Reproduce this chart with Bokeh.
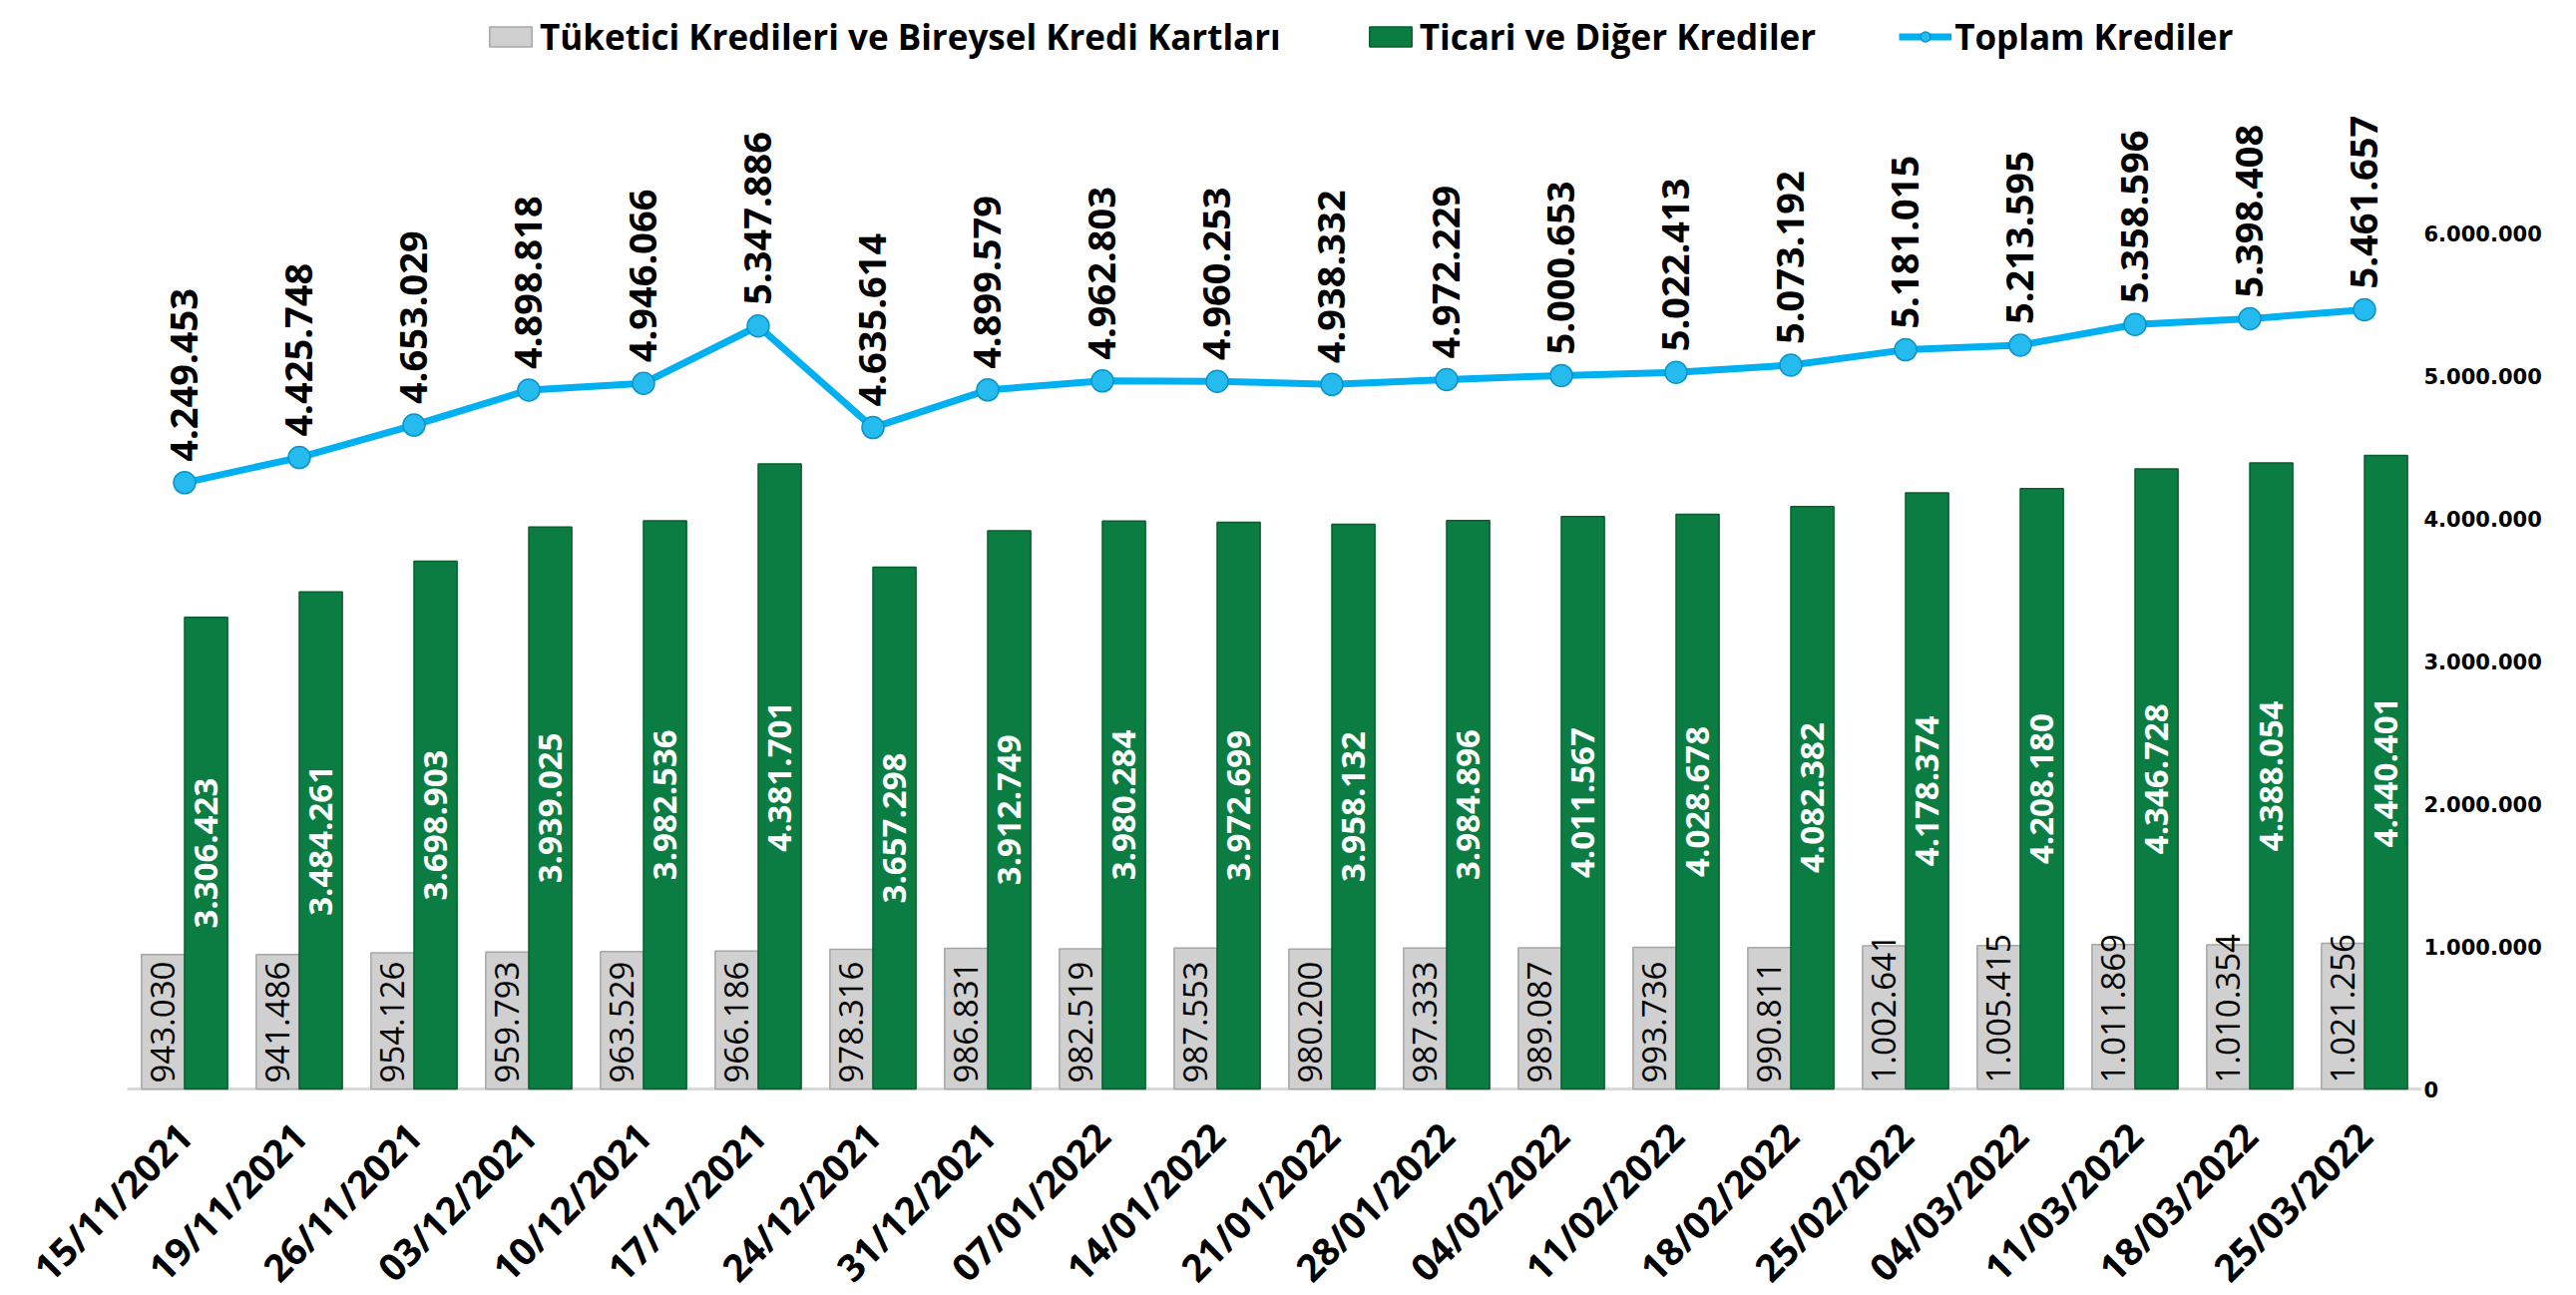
import math
from bokeh.plotting import figure
from bokeh.models import (ColumnDataSource, LinearAxis, FixedTicker,
                          Legend, LegendItem, Range1d)
from bokeh.transform import dodge
from bokeh.core.properties import value
from bokeh.embed import file_html
from bokeh.resources import INLINE

dates = ["15/11/2021", "19/11/2021", "26/11/2021", "03/12/2021", "10/12/2021",
         "17/12/2021", "24/12/2021", "31/12/2021", "07/01/2022", "14/01/2022",
         "21/01/2022", "28/01/2022", "04/02/2022", "11/02/2022", "18/02/2022",
         "25/02/2022", "04/03/2022", "11/03/2022", "18/03/2022", "25/03/2022"]
consumer = [943030, 941486, 954126, 959793, 963529, 966186, 978316, 986831,
            982519, 987553, 980200, 987333, 989087, 993736, 990811, 1002641,
            1005415, 1011869, 1010354, 1021256]
commercial = [3306423, 3484261, 3698903, 3939025, 3982536, 4381701, 3657298,
              3912749, 3980284, 3972699, 3958132, 3984896, 4011567, 4028678,
              4082382, 4178374, 4208180, 4346728, 4388054, 4440401]
total = [4249453, 4425748, 4653029, 4898818, 4946066, 5347886, 4635614,
         4899579, 4962803, 4960253, 4938332, 4972229, 5000653, 5022413,
         5073192, 5181015, 5213595, 5358596, 5398408, 5461657]
axis_ticks = [0, 1000000, 2000000, 3000000, 4000000, 5000000, 6000000]

series_names = ["Tüketici Kredileri ve Bireysel Kredi Kartları",
                "Ticari ve Diğer Krediler",
                "Toplam Krediler"]


def fmt(v):
    return f"{v:,}".replace(",", ".")


n = len(dates)
# category slots: slot i is centred at i + 0.5
slot = [i + 0.5 for i in range(n)]

src = ColumnDataSource(dict(
    slot=slot,
    date=dates,
    consumer=consumer,
    commercial=commercial,
    total=total,
    half_com=[c / 2 for c in commercial],
    zero=[0] * n,
    consumer_lbl=[fmt(v) for v in consumer],
    commercial_lbl=[fmt(v) for v in commercial],
    total_lbl=[fmt(v) for v in total],
))

# frame: 115 px per category, 143 px per million
p = figure(x_range=Range1d(-1.1043, n), y_range=Range1d(-1447552, 7573427),
           frame_width=2427, frame_height=1290,
           min_border_left=0, min_border_right=155, min_border_top=8,
           min_border_bottom=0,
           output_backend="svg", toolbar_location=None,
           x_axis_location=None, y_axis_location=None)
p.outline_line_color = None
p.xgrid.visible = False
p.ygrid.visible = False
p.background_fill_color = "white"
p.border_fill_color = "white"

# category axis baseline
p.segment(x0=[0], x1=[n], y0=[0], y1=[0], line_color="#D9D9D9", line_width=3)

bw = 0.375
r_gray = p.vbar(x=dodge("slot", -0.1875), top="consumer", width=bw,
                source=src, fill_color="#D0D0D0", line_color="#A6A6A6", line_width=1.5)
r_green = p.vbar(x=dodge("slot", 0.1875), top="commercial", width=bw,
                 source=src, fill_color="#0B7D42", line_color="#06602F", line_width=1.5)

r_line = p.line(x="slot", y="total", source=src, line_color="#00B0F0", line_width=7)
r_pts = p.scatter(x="slot", y="total", source=src, size=22, marker="circle",
                  fill_color="#25BBEF", line_color="#0A94C8", line_width=1.5)

# data labels
p.text(x=dodge("slot", -0.1875), y="zero", text="consumer_lbl",
       source=src, angle=math.pi / 2, text_align="left", text_baseline="middle",
       y_offset=-6, text_font=value("Open Sans"), text_font_size="33px",
       text_color="black")
p.text(x=dodge("slot", 0.1875), y="half_com", text="commercial_lbl",
       source=src, angle=math.pi / 2, text_align="center", text_baseline="middle",
       text_font=value("Open Sans"), text_font_style="bold", text_font_size="33px",
       text_color="white")
p.text(x="slot", y="total", text="total_lbl", source=src, angle=math.pi / 2,
       text_align="left", text_baseline="middle", y_offset=-21,
       text_font=value("Open Sans"), text_font_style="bold",
       text_font_size="38px", text_color="black")

# category tick labels
p.text(x="slot", y="zero", text="date", source=src,
       angle=math.pi / 4, text_align="right", text_baseline="middle",
       x_offset=0, y_offset=40,
       text_font=value("Open Sans"), text_font_style="bold",
       text_font_size="38px", text_color="black")

# right value axis
ra = LinearAxis(ticker=FixedTicker(ticks=axis_ticks))
ra.major_label_overrides = {t: fmt(t) for t in axis_ticks}
ra.axis_line_color = None
ra.major_tick_line_color = None
ra.minor_tick_line_color = None
ra.major_tick_out = 0
ra.major_tick_in = 0
ra.major_label_standoff = 2
ra.major_label_text_font = "DejaVu Sans"
ra.major_label_text_font_style = "bold"
ra.major_label_text_font_size = "21px"
ra.major_label_text_color = "black"
p.add_layout(ra, "right")

legend = Legend(items=[
    LegendItem(label=series_names[0], renderers=[r_gray]),
    LegendItem(label=series_names[1], renderers=[r_green]),
    LegendItem(label=series_names[2], renderers=[r_line, r_pts]),
], orientation="horizontal", location=(485, 1238))
legend.label_text_font = "Open Sans"
legend.label_text_font_style = "bold"
legend.label_text_font_size = "35px"
legend.label_text_color = "black"
legend.glyph_width = 53
legend.glyph_height = 25
legend.label_standoff = 3
legend.spacing = 83
legend.padding = 0
legend.margin = 0
legend.background_fill_alpha = 0
legend.border_line_alpha = 0
p.add_layout(legend)

open("out.html", "w").write(file_html(p, INLINE))
